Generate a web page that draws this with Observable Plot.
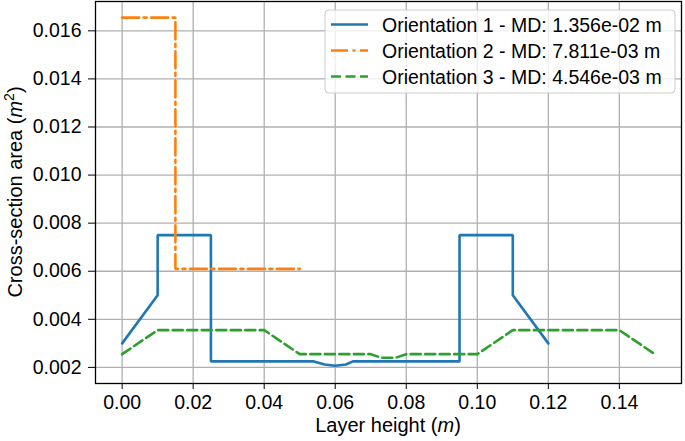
<!DOCTYPE html>
<html>
<head>
<meta charset="utf-8">
<script src="https://cdn.jsdelivr.net/npm/d3@7"></script>
<script src="https://cdn.jsdelivr.net/npm/@observablehq/plot@0.6"></script>
<style>
  html, body { margin: 0; padding: 0; background: white; }
  svg { display: block; }
</style>
</head>
<body>
<div id="chart"></div>
<script>
// ---- data ----
const xTicks = [0, 0.02, 0.04, 0.06, 0.08, 0.10, 0.12, 0.14];
const yTicks = [0.002, 0.004, 0.006, 0.008, 0.010, 0.012, 0.014, 0.016];

const legendLabels = [
  "Orientation 1 - MD: 1.356e-02 m",
  "Orientation 2 - MD: 7.811e-03 m",
  "Orientation 3 - MD: 4.546e-03 m"
];
const colors = ["#1f77b4", "#ff7f0e", "#2ca02c"];
const dashes = [null, "17,4.5,3,4.5", "10,4.5"];

const o1x = [0, 0.01, 0.01, 0.025, 0.025, 0.054, 0.057, 0.060, 0.063, 0.065, 0.095, 0.095, 0.11, 0.11, 0.12];
const o1y = [0.003, 0.005, 0.0075, 0.0075, 0.00225, 0.00225, 0.00212, 0.00207, 0.00212, 0.00225, 0.00225, 0.0075, 0.0075, 0.005, 0.003];

const o2x = [0, 0.015, 0.015, 0.05];
const o2y = [0.01655, 0.01655, 0.0061, 0.0061];

const o3x = [0, 0.01, 0.04, 0.05, 0.07, 0.073, 0.077, 0.08, 0.10, 0.11, 0.14, 0.15];
const o3y = [0.00255, 0.00355, 0.00355, 0.00255, 0.00255, 0.0024, 0.0024, 0.00255, 0.00255, 0.00355, 0.00355, 0.00255];

const seriesX = [o1x, o2x, o3x];
const seriesY = [o1y, o2y, o3y];
const series = seriesX.map((xs, s) => xs.map((x, i) => ({x, y: seriesY[s][i]})));

const W = 685, H = 441;
const mL = 95, mR = 4, mT = 1, mB = 58;
const FONT = "Liberation Sans, Arial, Helvetica, sans-serif";
const FS = 19.5;

const lineMarks = series.map((d, s) => Plot.line(d, {
  x: "x", y: "y", stroke: colors[s], strokeWidth: 2.6,
  strokeDasharray: dashes[s] || undefined, strokeLinejoin: "miter"
}));

const chart = Plot.plot({
  width: W, height: H,
  marginLeft: mL, marginRight: mR, marginTop: mT, marginBottom: mB,
  style: {fontFamily: FONT, fontSize: FS + "px", color: "black", background: "white"},
  x: {domain: [-0.0075, 0.1575], ticks: xTicks, tickFormat: d3.format(".2f"), tickSize: 6, tickPadding: 6, label: null},
  y: {domain: [0.00133, 0.01722], ticks: yTicks, tickFormat: d3.format(".3f"), tickSize: 7, tickPadding: 7, label: null},
  marks: [
    Plot.ruleX(xTicks, {stroke: "#b0b0b0", strokeWidth: 1.3}),
    Plot.ruleY(yTicks, {stroke: "#b0b0b0", strokeWidth: 1.3}),
    ...lineMarks,
    Plot.frame({stroke: "black", strokeWidth: 1.3})
  ]
});

document.getElementById("chart").appendChild(chart);
const svg = d3.select(chart);

// axis labels
const xl = svg.append("text")
  .attr("x", (mL + W - mR) / 2).attr("y", 431.5)
  .attr("text-anchor", "middle").attr("font-size", 20).attr("fill", "black");
xl.append("tspan").text("Layer height (");
xl.append("tspan").attr("font-style", "italic").text("m");
xl.append("tspan").text(")");

const yl = svg.append("text")
  .attr("transform", `translate(22,${(mT + H - mB) / 2}) rotate(-90)`)
  .attr("text-anchor", "middle").attr("font-size", 20).attr("fill", "black");
yl.append("tspan").text("Cross-section area (");
yl.append("tspan").attr("font-style", "italic").text("m");
yl.append("tspan").attr("dy", -8).attr("font-size", 14).text("2");
yl.append("tspan").attr("dy", 8).text(")");

// legend
const lg = svg.append("g");
lg.append("rect").attr("x", 325).attr("y", 10).attr("width", 350).attr("height", 83)
  .attr("rx", 4).attr("fill", "white").attr("fill-opacity", 0.8)
  .attr("stroke", "#cccccc").attr("stroke-width", 1);
legendLabels.forEach((lab, i) => {
  const y = 24.5 + i * 26;
  lg.append("line").attr("x1", 331).attr("x2", 368).attr("y1", y).attr("y2", y)
    .attr("stroke", colors[i]).attr("stroke-width", 2.6)
    .attr("stroke-dasharray", dashes[i] || null);
  lg.append("text").attr("x", 382).attr("y", y).attr("dy", "0.36em")
    .attr("text-anchor", "start")
    .attr("font-size", FS).attr("fill", "black").text(lab);
});
</script>
</body>
</html>
